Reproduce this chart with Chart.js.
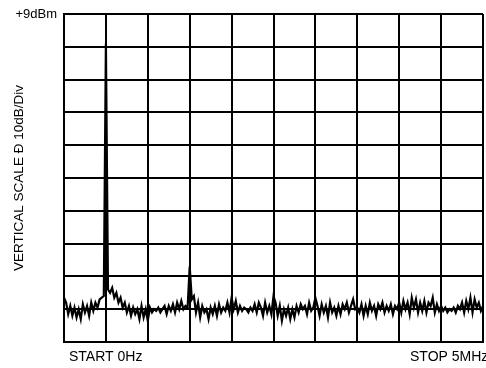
<!DOCTYPE html>
<html>
<head>
<meta charset="utf-8">
<script src="https://cdn.jsdelivr.net/npm/chart.js@4/dist/chart.umd.min.js"></script>
<style>
html,body{margin:0;padding:0;background:#fff;}
canvas{display:block;}
</style>
</head>
<body>
<canvas id="c" width="486" height="368"></canvas>
<script>
// Sweep settings (MHz)
const startFreq = 0;
const stopFreq = 5;
const freqStep = 0.025;
// Y axis grid values (dBm), 10 dB/div
const yTicks = [-91, -81, -71, -61, -51, -41, -31, -21, -11, -1, 9];
const xTicks = [0, 0.5, 1, 1.5, 2, 2.5, 3, 3.5, 4, 4.5, 5];
// Measured trace levels (dBm), one per sweep step
const levels = [
  -77.5, -79, -82.5, -80, -83, -80.5,
  -83.5, -81, -84, -79.5, -82, -80, -83, -79, -81.5,
  -79, -80.5, -78, -77.5,
  -77,
  0,
  -75,
  -76, -74.5, -77.5, -76, -79, -77.5, -80.5, -79, -82,
  -80, -83, -80.5, -82.5, -81, -84, -80, -83.5, -81, -84.5,
  -80.5, -82, -81, -81.5, -80.5, -82, -81, -80, -82.5,
  -80, -81.5, -79.5, -82, -79, -81, -78.5, -81, -80,
  -80.5,
  -68,
  -78,
  -77, -82, -79, -83.5, -80, -82, -81, -84, -80.5,
  -82.5, -80, -83, -79.5, -82, -80.5, -81.5, -79, -82, -77.5,
  -81, -78.5, -82, -80, -81.5, -80.5, -81, -82, -80.5, -81.5,
  -79.5, -82, -79, -80.5, -83, -79, -82, -80, -82.5, -77,
  -79, -83, -80, -84.5, -81, -83, -80.5, -84, -81, -83.5,
  -80, -82, -79.5, -81, -80, -82.5, -79, -81.5, -80.5, -77.5,
  -80, -83, -79.5, -82, -80, -83.5, -79, -82, -80.5, -83,
  -80, -82.5, -79.5, -81, -79, -82, -80, -78, -81, -80.5,
  -82, -79.5, -83, -80, -82.5, -79, -81.5, -80, -83, -79.5,
  -81, -79, -82, -80, -81.5, -79.5, -82.5, -80, -81, -79,
  -82, -78.5, -81, -79, -82.5, -77.5, -80.5, -78, -82, -79,
  -81.5, -78.5, -82, -79, -80, -77.5, -82, -79.5, -81.5, -80,
  -81.5, -80.5, -82, -81, -81.5, -80.5, -82, -80, -81, -79,
  -82, -78.5, -81, -77.5, -82, -78, -80.5, -79, -81.5, -80
];
const labelTop = '+9dBm';
const labelYTitle = 'VERTICAL SCALE \u00D0 10dB/Div';
const labelStart = 'START 0Hz';
const labelStop = 'STOP 5MHz';

const points = levels.map((v, i) => ({ x: startFreq + i * freqStep, y: v }));

const textPlugin = {
  id: 'texts',
  afterDraw(chart) {
    const ctx = chart.ctx;
    const a = chart.chartArea;
    ctx.save();
    ctx.fillStyle = '#000';
    ctx.font = '13px "Liberation Sans", Arial, sans-serif';
    ctx.textAlign = 'right';
    ctx.textBaseline = 'middle';
    ctx.fillText(labelTop, a.left - 7, a.top);
    ctx.font = '14px "Liberation Sans", Arial, sans-serif';
    ctx.textAlign = 'left';
    ctx.fillText(labelStart, a.left + 5, a.bottom + 15);
    ctx.fillText(labelStop, a.right - 73, a.bottom + 15);
    ctx.translate(19, (a.top + a.bottom) / 2);
    ctx.rotate(-Math.PI / 2);
    ctx.textAlign = 'center';
    ctx.font = '13.5px "Liberation Sans", Arial, sans-serif';
    ctx.fillText(labelYTitle, 0, 0);
    ctx.restore();
  }
};

new Chart(document.getElementById('c'), {
  type: 'line',
  data: {
    datasets: [{
      data: points,
      borderColor: '#000',
      borderWidth: 2.2,
      pointRadius: 0,
      tension: 0,
      fill: false
    }]
  },
  options: {
    responsive: false,
    animation: false,
    devicePixelRatio: 1,
    layout: { padding: { left: 64, right: 3, top: 14, bottom: 26 } },
    plugins: { legend: { display: false }, tooltip: { enabled: false } },
    scales: {
      x: {
        type: 'linear',
        min: startFreq,
        max: stopFreq,
        afterBuildTicks: (axis) => { axis.ticks = xTicks.map(v => ({ value: v })); },
        ticks: { display: false },
        grid: { color: '#000', lineWidth: 2, drawTicks: false },
        border: { display: true, color: '#000', width: 2 }
      },
      y: {
        type: 'linear',
        min: yTicks[0],
        max: yTicks[yTicks.length - 1],
        afterBuildTicks: (axis) => { axis.ticks = yTicks.map(v => ({ value: v })); },
        ticks: { display: false },
        grid: { color: '#000', lineWidth: 2, drawTicks: false },
        border: { display: true, color: '#000', width: 2 }
      }
    }
  },
  plugins: [textPlugin]
});
</script>
</body>
</html>
